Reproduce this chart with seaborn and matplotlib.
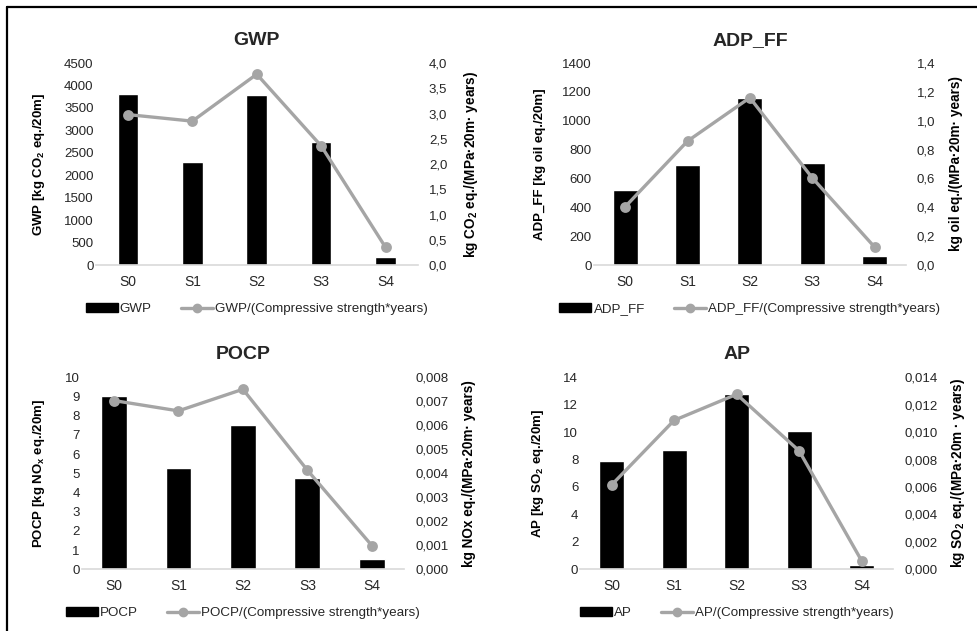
import numpy as np
import pandas as pd
import matplotlib
matplotlib.use("Agg")
import matplotlib.pyplot as plt
import seaborn as sns
from matplotlib.lines import Line2D
from matplotlib.patches import Patch
from matplotlib.ticker import FuncFormatter, MultipleLocator

sns.set_theme(style="white")
plt.rcParams["font.family"] = ["Liberation Sans", "DejaVu Sans"]
plt.rcParams["mathtext.fontset"] = "custom"
plt.rcParams["mathtext.rm"] = "Liberation Sans"
plt.rcParams["mathtext.bf"] = "Liberation Sans:bold"

# data
scenarios = ["S0", "S1", "S2", "S3", "S4"]

gwp = [3820, 2300, 3780, 2750, 180]
gwp_per = [2.98, 2.85, 3.78, 2.36, 0.35]

adp_ff = [520, 691, 1158, 705, 65]
adp_ff_per = [0.404, 0.859, 1.16, 0.605, 0.125]

pocp = [9.0, 5.3, 7.5, 4.78, 0.52]
pocp_per = [0.00703, 0.0066, 0.0075, 0.00413, 0.00099]

ap = [7.9, 8.7, 12.75, 10.05, 0.32]
ap_per = [0.00615, 0.01086, 0.01276, 0.00863, 0.00061]

panels = [
    dict(name="GWP", bars=gwp, line=gwp_per,
         left_lab=r"GWP [kg CO$_\mathbf{2}$ eq./20m]",
         right_lab=r"kg CO$_\mathbf{2}$ eq./(MPa·20m· years)",
         lmax=4500, lstep=500, rmax=4.0, rstep=0.5, rdec=1,
         rect=[0.098, 0.580, 0.3296, 0.320], width=0.32,
         lx=-0.151, rx=1.137),
    dict(name="ADP_FF", bars=adp_ff, line=adp_ff_per,
         left_lab="ADP_FF [kg oil eq./20m]",
         right_lab="kg oil eq./(MPa·20m· years)",
         lmax=1400, lstep=200, rmax=1.4, rstep=0.2, rdec=1,
         rect=[0.608, 0.580, 0.319, 0.320], width=0.4,
         lx=-0.154, rx=1.140),
    dict(name="POCP", bars=pocp, line=pocp_per,
         left_lab=r"POCP [kg NO$_\mathbf{x}$ eq./20m]",
         right_lab="kg NOx eq./(MPa·20m· years)",
         lmax=10, lstep=1, rmax=0.008, rstep=0.001, rdec=3,
         rect=[0.0836, 0.0978, 0.330, 0.3043], width=0.4,
         lx=-0.109, rx=1.179),
    dict(name="AP", bars=ap, line=ap_per,
         left_lab=r"AP [kg SO$_\mathbf{2}$ eq./20m]",
         right_lab=r"kg SO$_\mathbf{2}$ eq./(MPa·20m · years)",
         lmax=14, lstep=2, rmax=0.014, rstep=0.002, rdec=3,
         rect=[0.594, 0.0978, 0.320, 0.3043], width=0.4,
         lx=-0.110, rx=1.18),
]

LINE_C = "#a5a5a5"
TICK_C = "#262626"

fig = plt.figure(figsize=(9.77, 6.31), dpi=100)

for p in panels:
    ax = fig.add_axes(p["rect"])
    df = pd.DataFrame({"scenario": scenarios, "value": p["bars"], "per": p["line"]})
    sns.barplot(data=df, x="scenario", y="value", ax=ax, color="black",
                saturation=1, width=p["width"])
    ax.set_ylim(0, p["lmax"])
    ax.yaxis.set_major_locator(MultipleLocator(p["lstep"]))
    ax.set_xlim(-0.5, 4.5)

    ax2 = ax.twinx()
    sns.pointplot(data=df, x="scenario", y="per", ax=ax2, color=LINE_C,
                  markers="o", markersize=6, linewidth=2.4, errorbar=None)
    ax2.set_ylim(0, p["rmax"])
    ax2.yaxis.set_major_locator(MultipleLocator(p["rstep"]))
    dec = p["rdec"]
    ax2.yaxis.set_major_formatter(
        FuncFormatter(lambda v, pos, d=dec: f"{v:.{d}f}".replace(".", ",")))
    ax2.set_xlim(-0.5, 4.5)

    for a in (ax, ax2):
        for s in a.spines.values():
            s.set_visible(False)
        a.set_xlabel("")
    ax.spines["bottom"].set_visible(True)
    ax.spines["bottom"].set_color("#d9d9d9")
    ax.spines["bottom"].set_linewidth(1.2)

    ax.tick_params(axis="y", length=0, pad=1.5, labelsize=9.5, labelcolor=TICK_C)
    ax.tick_params(axis="x", length=0, pad=7, labelsize=10, labelcolor=TICK_C)
    ax2.tick_params(axis="y", length=0, pad=8, labelsize=9.5, labelcolor=TICK_C)

    ax.set_ylabel(p["left_lab"], fontsize=9.5, fontweight="bold", color="black")
    ax.yaxis.set_label_coords(p["lx"], 0.5)
    ax2.set_ylabel(p["right_lab"], fontsize=9.8, fontweight="bold",
                   color="black", rotation=90)
    ax2.yaxis.set_label_coords(p["rx"], 0.5)

    ax.set_title(p["name"], fontsize=14, fontweight="bold", pad=13)

    handles = [Patch(facecolor="black", edgecolor="black"),
               Line2D([], [], color=LINE_C, lw=2.4, marker="o", markersize=6)]
    labels = [p["name"], p["name"] + "/(Compressive strength*years)"]
    off = -44 / (p["rect"][3] * 631)
    ax.legend(handles, labels, loc="center", bbox_to_anchor=(0.5, off),
              ncol=2, frameon=False, fontsize=9.6, handlelength=2.4,
              handleheight=0.65, handletextpad=0.15, columnspacing=2.2)

# frame lines along top and left edges
fig.add_artist(Line2D([6.5 / 977, 6.5 / 977], [0, 1 - 6.5 / 631],
                      transform=fig.transFigure, color="black", lw=1.6))
fig.add_artist(Line2D([6.5 / 977, 1], [1 - 6.5 / 631, 1 - 6.5 / 631],
                      transform=fig.transFigure, color="black", lw=1.6))

fig.savefig("out.png", dpi=100)
